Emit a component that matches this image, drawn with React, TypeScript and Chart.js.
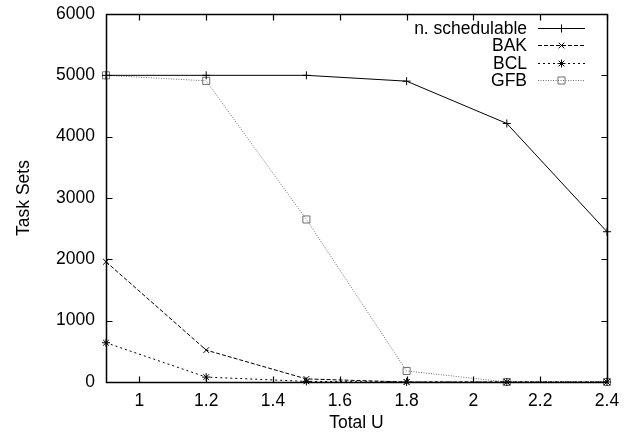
import React, { useEffect, useRef } from "react";
import { Chart, registerables } from "chart.js";

Chart.register(...registerables);

const xValues = [0.9, 1.2, 1.5, 1.8, 2.1, 2.4];
const schedulable = [5000, 5000, 5000, 4905, 4215, 2450];
const bak = [1960, 520, 50, 0, 0, 0];
const bcl = [640, 80, 10, 0, 0, 0];
const gfb = [5000, 4910, 2650, 180, 0, 0];
const xTicks = [1, 1.2, 1.4, 1.6, 1.8, 2, 2.2, 2.4];
const yTicks = [0, 1000, 2000, 3000, 4000, 5000, 6000];
const seriesNames = ["n. schedulable", "BAK", "BCL", "GFB"];
const X_MIN = 0.9;
const X_MAX = 2.4;
const Y_MIN = 0;
const Y_MAX = 6000;

const FONT = "'Liberation Sans', Arial, Helvetica, sans-serif";
const FS = 17.5;

const styles = [
  { color: "#000000", dash: [] as number[], point: "cross", radius: 4 },
  { color: "#000000", dash: [4, 2], point: "crossRot", radius: 4 },
  { color: "#000000", dash: [2, 3], point: "star", radius: 4 },
  { color: "#707070", dash: [1, 1.5], point: "rect", radius: 5 },
];

const LEG_ROWS = [27.5, 45, 62.5, 80];

function drawMarker(ctx: CanvasRenderingContext2D, kind: string, cx: number, y: number, r: number) {
  ctx.beginPath();
  if (kind === "cross") {
    ctx.moveTo(cx - r, y); ctx.lineTo(cx + r, y);
    ctx.moveTo(cx, y - r); ctx.lineTo(cx, y + r);
  } else if (kind === "crossRot") {
    const d = r * Math.SQRT1_2;
    ctx.moveTo(cx - d, y - d); ctx.lineTo(cx + d, y + d);
    ctx.moveTo(cx - d, y + d); ctx.lineTo(cx + d, y - d);
  } else if (kind === "star") {
    const d = r * Math.SQRT1_2;
    ctx.moveTo(cx - d, y - d); ctx.lineTo(cx + d, y + d);
    ctx.moveTo(cx - d, y + d); ctx.lineTo(cx + d, y - d);
    ctx.moveTo(cx - r, y); ctx.lineTo(cx + r, y);
    ctx.moveTo(cx, y - r); ctx.lineTo(cx, y + r);
  } else {
    const d = r * Math.SQRT1_2;
    ctx.rect(cx - d, y - d, 2 * d, 2 * d);
  }
  ctx.stroke();
}

const legendPlugin = {
  id: "gnuLegend",
  afterDatasetsDraw(chart: any) {
    const ctx: CanvasRenderingContext2D = chart.ctx;
    ctx.save();
    const textRight = 527;
    const x0 = 538;
    const x1 = 585;
    ctx.lineWidth = 1;
    ctx.font = `${FS}px ${FONT}`;
    ctx.textAlign = "right";
    ctx.textBaseline = "middle";
    seriesNames.forEach((name, i) => {
      const y = Math.round(LEG_ROWS[i]) + 0.5;
      const s = styles[i];
      ctx.fillStyle = "#000";
      ctx.fillText(name, textRight, y + 1);
      ctx.strokeStyle = s.color;
      ctx.setLineDash(s.dash);
      ctx.beginPath();
      ctx.moveTo(x0, y);
      ctx.lineTo(x1, y);
      ctx.stroke();
      ctx.setLineDash([]);
      drawMarker(ctx, s.point, 561.5, y, s.radius);
    });
    ctx.restore();
  },
};

const framePlugin = {
  id: "gnuFrame",
  afterDraw(chart: any) {
    const ctx: CanvasRenderingContext2D = chart.ctx;
    const xs = chart.scales.x;
    const ys = chart.scales.y;
    const L = Math.round(xs.getPixelForValue(X_MIN)) + 0.5;
    const R = Math.round(xs.getPixelForValue(X_MAX)) + 0.5;
    const T = Math.round(ys.getPixelForValue(Y_MAX)) + 0.5;
    const B = Math.round(ys.getPixelForValue(Y_MIN)) + 0.5;
    ctx.save();
    ctx.setLineDash([]);
    ctx.lineWidth = 1.5;
    ctx.strokeStyle = "#000";
    ctx.lineCap = "square";
    ctx.beginPath();
    ctx.moveTo(L, T);
    ctx.lineTo(R, T);
    ctx.lineTo(R, B);
    ctx.lineTo(L, B);
    ctx.closePath();
    ctx.stroke();
    ctx.lineCap = "butt";
    ctx.lineWidth = 1.2;
    const tl = 6;
    ctx.beginPath();
    xTicks.forEach((v) => {
      const px = Math.round(xs.getPixelForValue(v)) + 0.5;
      ctx.moveTo(px, B);
      ctx.lineTo(px, B - tl);
      ctx.moveTo(px, T);
      ctx.lineTo(px, T + tl);
    });
    yTicks.forEach((v) => {
      const py = Math.round(ys.getPixelForValue(v)) + 0.5;
      ctx.moveTo(L, py);
      ctx.lineTo(L + tl, py);
      ctx.moveTo(R, py);
      ctx.lineTo(R - tl, py);
    });
    ctx.stroke();
    ctx.restore();
  },
};

const noAutoPadding = (scale: any) => {
  scale.paddingTop = 0;
  scale.paddingBottom = 0;
  scale.paddingLeft = 0;
  scale.paddingRight = 0;
};

export default function App() {
  const ref = useRef<HTMLCanvasElement | null>(null);
  useEffect(() => {
    if (!ref.current) return;
    const series = [schedulable, bak, bcl, gfb];
    const chart = new Chart(ref.current, {
      type: "line",
      data: {
        datasets: series.map((vals, i) => ({
          label: seriesNames[i],
          data: vals.map((v, j) => ({ x: xValues[j], y: v })),
          borderColor: styles[i].color,
          borderWidth: 1,
          borderDash: styles[i].dash,
          pointStyle: styles[i].point as any,
          pointRadius: styles[i].radius,
          pointBorderColor: styles[i].color,
          pointBackgroundColor: "rgba(0,0,0,0)",
          pointBorderWidth: 1,
          fill: false,
          tension: 0,
          clip: 8,
        })),
      },
      options: {
        responsive: false,
        animation: false,
        layout: { padding: { top: 14, right: 18, left: 0, bottom: 0 } },
        plugins: {
          legend: { display: false },
          tooltip: { enabled: false },
        },
        scales: {
          x: {
            type: "linear",
            min: X_MIN,
            max: X_MAX,
            afterBuildTicks: (scale: any) => {
              scale.ticks = xTicks.map((v) => ({ value: v }));
            },
            afterFit: (scale: any) => {
              scale.height = 52;
              noAutoPadding(scale);
            },
            grid: { display: false, drawTicks: false },
            border: { display: false },
            ticks: {
              color: "#000",
              padding: 9,
              maxRotation: 0,
              autoSkip: false,
              font: { family: FONT, size: FS },
              callback: (v: any) => String(Number(v)),
            },
            title: {
              display: true,
              text: "Total U",
              color: "#000",
              padding: { top: 0, bottom: 0 },
              font: { family: FONT, size: FS, lineHeight: 1.2 },
            },
          },
          y: {
            type: "linear",
            min: Y_MIN,
            max: Y_MAX,
            afterBuildTicks: (scale: any) => {
              scale.ticks = yTicks.map((v) => ({ value: v }));
            },
            afterFit: (scale: any) => {
              scale.width = 106;
              noAutoPadding(scale);
            },
            grid: { display: false, drawTicks: false },
            border: { display: false },
            ticks: {
              color: "#000",
              padding: 11,
              autoSkip: false,
              font: { family: FONT, size: FS },
              callback: (v: any) => String(v),
            },
            title: {
              display: true,
              text: "Task Sets",
              color: "#000",
              padding: { top: 14, bottom: 0 },
              font: { family: FONT, size: FS, lineHeight: 1.2 },
            },
          },
        },
      },
      plugins: [legendPlugin, framePlugin],
    });
    return () => chart.destroy();
  }, []);
  return (
    <div style={{ position: "fixed", left: 0, top: 0, width: 625, height: 434, background: "#fff" }}>
      <canvas ref={ref} width={625} height={434} style={{ display: "block" }} />
    </div>
  );
}
